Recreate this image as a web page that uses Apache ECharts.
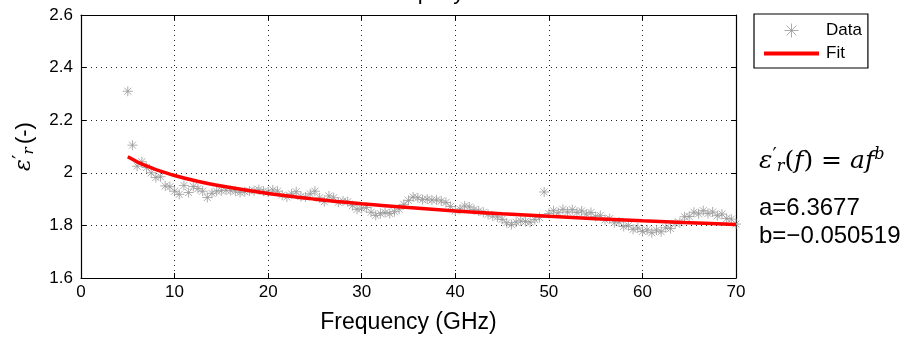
<!DOCTYPE html>
<html><head><meta charset="utf-8">
<script src="https://cdn.jsdelivr.net/npm/echarts@6/dist/echarts.min.js"></script>
<style>html,body{margin:0;padding:0;background:#fff}#c{width:915px;height:339px}</style>
</head><body><div id="c"></div>
<script>
// ---- data ----
const freq = [
  5, 5.5, 6, 6.5, 7, 7.5, 8, 8.5, 9, 9.5,
  10, 10.5, 11, 11.5, 12, 12.5, 13, 13.5, 14, 14.5,
  15, 15.5, 16, 16.5, 17, 17.5, 18, 18.5, 19, 19.5,
  20, 20.5, 21, 21.5, 22, 22.5, 23, 23.5, 24, 24.5,
  25, 25.5, 26, 26.5, 27, 27.5, 28, 28.5, 29, 29.5,
  30, 30.5, 31, 31.5, 32, 32.5, 33, 33.5, 34, 34.5,
  35, 35.5, 36, 36.5, 37, 37.5, 38, 38.5, 39, 39.5,
  40, 40.5, 41, 41.5, 42, 42.5, 43, 43.5, 44, 44.5,
  45, 45.5, 46, 46.5, 47, 47.5, 48, 48.5, 49, 49.5,
  50, 50.5, 51, 51.5, 52, 52.5, 53, 53.5, 54, 54.5,
  55, 55.5, 56, 56.5, 57, 57.5, 58, 58.5, 59, 59.5,
  60, 60.5, 61, 61.5, 62, 62.5, 63, 63.5, 64, 64.5,
  65, 65.5, 66, 66.5, 67, 67.5, 68, 68.5, 69, 69.5,
  70
];
const epsData = [
  2.31, 2.105, 2.025, 2.042, 2.02, 2.0, 1.982, 1.985, 1.95, 1.947,
  1.93, 1.918, 1.952, 1.925, 1.948, 1.94, 1.93, 1.906, 1.922, 1.93,
  1.932, 1.934, 1.932, 1.93, 1.925, 1.928, 1.931, 1.932, 1.936, 1.93,
  1.927, 1.935, 1.93, 1.915, 1.908, 1.92, 1.928, 1.91, 1.908, 1.92,
  1.93, 1.905, 1.89, 1.912, 1.905, 1.888, 1.893, 1.89, 1.875, 1.861,
  1.865, 1.868, 1.85, 1.838, 1.845, 1.849, 1.845, 1.852, 1.862, 1.88,
  1.895, 1.908, 1.905, 1.898, 1.9, 1.896, 1.897, 1.893, 1.887, 1.872,
  1.855, 1.862, 1.874, 1.87, 1.86, 1.855, 1.85, 1.842, 1.836, 1.832,
  1.823, 1.81, 1.803, 1.812, 1.817, 1.815, 1.812, 1.822, 1.83, 1.927,
  1.845, 1.856, 1.848, 1.861, 1.851, 1.86, 1.849, 1.855, 1.843, 1.849,
  1.834, 1.838, 1.821, 1.826, 1.81, 1.813, 1.796, 1.799, 1.785, 1.79,
  1.777, 1.783, 1.772, 1.782, 1.776, 1.791, 1.788, 1.808, 1.81, 1.833,
  1.834, 1.85, 1.844, 1.856, 1.845, 1.851, 1.837, 1.843, 1.826, 1.824,
  1.805
];
const fitFreq = [5, 6, 7, 8, 10, 12, 15, 20, 25, 30, 35, 40, 45, 50, 55, 60, 65, 70];
const fitEps  = [2.0607, 2.0418, 2.0260, 2.0124, 1.9898, 1.9716, 1.9495, 1.9213, 1.8998,
                 1.8824, 1.8678, 1.8552, 1.8442, 1.8344, 1.8256, 1.8176, 1.8103, 1.8035];
const xRange = [0, 70, 10];
const yRange = [1.6, 2.6, 0.2];
const paramA = 'a=6.3677';
const paramB = 'b=\u22120.050519';

const star = 'path://M0,-5L0,5M-5,0L5,0M-3.5,-3.5L3.5,3.5M-3.5,3.5L3.5,-3.5';
const lineIcon = 'path://M0,0L55,0L55,4L0,4Z';
const font = '"Liberation Sans", Arial, sans-serif';

const chart = echarts.init(document.getElementById('c'), null, {renderer: 'canvas'});
const tickStyle = {inside: true, length: 5, lineStyle: {color: '#000', width: 1}};
const gridLine = {show: true, lineStyle: {color: '#222', width: 1, type: [1, 4]}};
chart.setOption({
  animation: false,
  backgroundColor: '#fff',
  title: {
    text: 'Epoxy', left: 398, top: -23,
    textStyle: {fontFamily: font, fontSize: 22, fontWeight: 'normal', color: '#000'}
  },
  grid: {left: 81, right: 179, top: 15, bottom: 60},
  legend: {
    left: 754, top: 14, orient: 'vertical',
    padding: [7, 6, 6, 10], itemGap: 5, itemWidth: 55, itemHeight: 14,
    borderColor: '#000', borderWidth: 1.2, backgroundColor: '#fff',
    textStyle: {fontFamily: font, fontSize: 17, color: '#000', padding: [0, 0, 0, 2]},
    data: [
      {name: 'Data', itemStyle: {color: 'none', borderColor: '#999', borderWidth: 1}},
      {name: 'Fit', icon: lineIcon, itemStyle: {color: '#ff0000', borderWidth: 0}}
    ]
  },
  xAxis: [{
    type: 'value', min: xRange[0], max: xRange[1], interval: xRange[2],
    name: 'Frequency (GHz)', nameLocation: 'middle', nameGap: 33,
    nameTextStyle: {fontFamily: font, fontSize: 23, color: '#000'},
    axisLine: {show: true, onZero: false, lineStyle: {color: '#000', width: 1.2}},
    axisTick: tickStyle,
    axisLabel: {fontFamily: font, fontSize: 17, color: '#000', margin: 6},
    splitLine: gridLine
  }, {
    type: 'value', position: 'top', min: xRange[0], max: xRange[1], interval: xRange[2],
    axisLine: {show: true, onZero: false, lineStyle: {color: '#000', width: 1.2}},
    axisTick: tickStyle, axisLabel: {show: false}, splitLine: {show: false}
  }],
  yAxis: [{
    type: 'value', min: yRange[0], max: yRange[1], interval: yRange[2],
    name: '{i|ε}{p|′}{s|r} {n|(-)}', nameLocation: 'middle', nameGap: 44, nameRotate: 90,
    nameTextStyle: {
      rich: {
        i: {fontFamily: '"DejaVu Serif", serif', fontStyle: 'italic', fontSize: 22, color: '#000'},
        p: {fontFamily: '"DejaVu Serif", serif', fontSize: 20, color: '#000', verticalAlign: 'top', padding: [0, 0, 4, 0]},
        s: {fontFamily: '"DejaVu Serif", serif', fontStyle: 'italic', fontSize: 15, color: '#000', padding: [10, 0, 0, 0]},
        n: {fontFamily: font, fontSize: 22, color: '#000'}
      }
    },
    axisLine: {show: true, onZero: false, lineStyle: {color: '#000', width: 1.2}},
    axisTick: tickStyle,
    axisLabel: {fontFamily: font, fontSize: 17, color: '#000', margin: 8},
    splitLine: gridLine
  }, {
    type: 'value', position: 'right', min: yRange[0], max: yRange[1], interval: yRange[2],
    axisLine: {show: true, onZero: false, lineStyle: {color: '#000', width: 1.2}},
    axisTick: tickStyle, axisLabel: {show: false}, splitLine: {show: false}
  }],
  series: [{
    name: 'Data', type: 'scatter', xAxisIndex: 0, yAxisIndex: 0,
    data: freq.map((f, i) => [f, epsData[i]]),
    symbol: star, symbolSize: 10, symbolKeepAspect: true,
    itemStyle: {color: 'none', borderColor: '#999', borderWidth: 1},
    z: 2
  }, {
    name: 'Fit', type: 'line', xAxisIndex: 0, yAxisIndex: 0,
    data: fitFreq.map((f, i) => [f, fitEps[i]]),
    smooth: 0.4, showSymbol: false, symbol: 'none',
    lineStyle: {color: '#ff0000', width: 3.5},
    itemStyle: {color: '#ff0000'},
    z: 3
  }],
  graphic: [{
    type: 'text', left: 759, top: 147,
    style: {
      text: '{i|ε}{p|′}{s|r}{n|(}{i|f}{n|) = }{i|af}{u|b}',
      rich: {
        i: {fontFamily: '"DejaVu Serif", serif', fontStyle: 'italic', fontSize: 25, fill: '#000'},
        n: {fontFamily: '"DejaVu Serif", serif', fontSize: 25, fill: '#000'},
        p: {fontFamily: '"DejaVu Serif", serif', fontSize: 19, fill: '#000', verticalAlign: 'top'},
        s: {fontFamily: '"DejaVu Serif", serif', fontStyle: 'italic', fontSize: 16, fill: '#000', verticalAlign: 'bottom', padding: [12, 0, 0, 0]},
        u: {fontFamily: '"DejaVu Serif", serif', fontStyle: 'italic', fontSize: 16, fill: '#000', verticalAlign: 'top', padding: [0, 0, 12, 0]}
      }
    }
  }, {
    type: 'text', left: 759, top: 196,
    style: {text: paramA, fontFamily: font, fontSize: 24, fill: '#000'}
  }, {
    type: 'text', left: 759, top: 224,
    style: {text: paramB, fontFamily: font, fontSize: 24, fill: '#000'}
  }]
});
</script>
</body></html>
